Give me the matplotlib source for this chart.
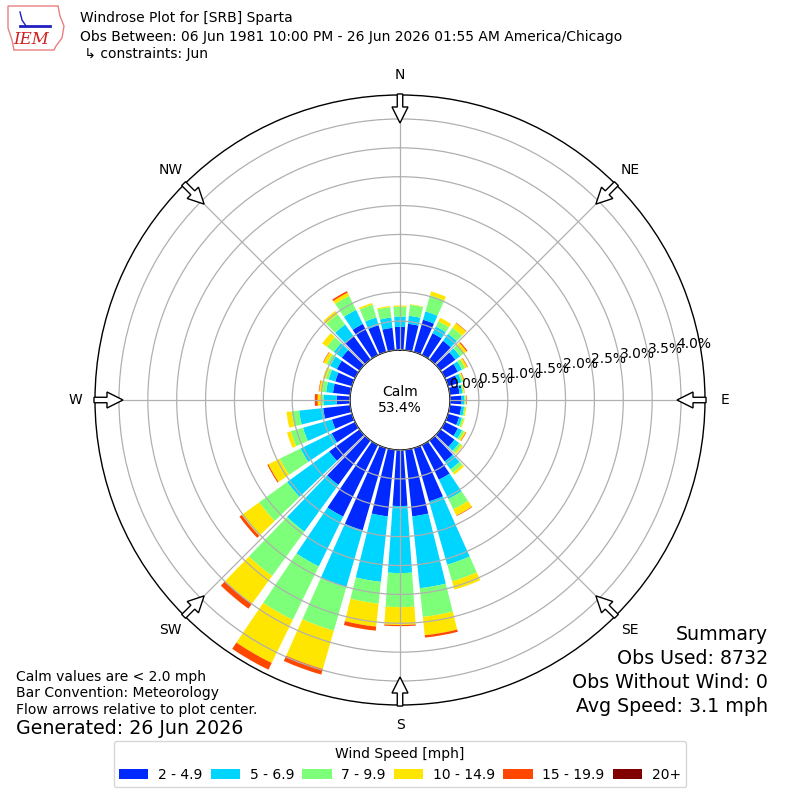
import numpy as np
import matplotlib
matplotlib.use('Agg')
import matplotlib.pyplot as plt
from matplotlib.patches import FancyArrow, Polygon

# direction bins (deg, meteorological), 10 deg wide
directions = np.arange(0, 360, 10)
bin_labels = ['2 - 4.9', '5 - 6.9', '7 - 9.9', '10 - 14.9', '15 - 19.9', '20+']

# percent of obs per direction, one list per speed bin
spd_2_5 = [0.40, 0.46, 0.58, 0.42, 0.40, 0.32, 0.25, 0.18, 0.17, 0.20, 0.20, 0.20,
           0.25, 0.30, 0.45, 0.67, 0.96, 1.16, 0.97, 1.16, 1.48, 1.38, 0.95, 0.65,
           0.45, 0.36, 0.47, 0.23, 0.30, 0.30, 0.35, 0.38, 0.50, 0.60, 0.48, 0.39]
spd_5_7 = [0.18, 0.14, 0.15, 0.13, 0.15, 0.10, 0.08, 0.06, 0.05, 0.05, 0.05, 0.05,
           0.08, 0.10, 0.17, 0.37, 1.14, 1.25, 1.16, 1.14, 1.03, 0.96, 1.00, 0.90,
           0.60, 0.52, 0.42, 0.23, 0.12, 0.12, 0.13, 0.17, 0.25, 0.27, 0.14, 0.18]
spd_7_10 = [0.17, 0.19, 0.29, 0.10, 0.13, 0.08, 0.06, 0.03, 0.02, 0.02, 0.02, 0.03,
            0.04, 0.05, 0.07, 0.20, 0.30, 0.50, 0.59, 0.38, 0.78, 1.03, 0.95, 0.60,
            0.40, 0.22, 0.13, 0.03, 0.07, 0.05, 0.07, 0.15, 0.22, 0.27, 0.23, 0.18]
spd_10_15 = [0.02, 0.01, 0.07, 0.07, 0.10, 0.06, 0.04, 0.02, 0.015, 0.01, 0.02, 0.02,
             0.03, 0.03, 0.04, 0.12, 0.15, 0.32, 0.31, 0.40, 0.69, 0.83, 0.60, 0.37,
             0.22, 0.07, 0.09, 0.07, 0.05, 0.05, 0.06, 0.10, 0.07, 0.06, 0.03, 0.02]
spd_15_20 = [0.0, 0.0, 0.0, 0.0, 0.01, 0.02, 0.01, 0.01, 0.005, 0.01, 0.0, 0.0,
             0.01, 0.0, 0.0, 0.01, 0.0, 0.04, 0.02, 0.07, 0.10, 0.13, 0.10, 0.05,
             0.02, 0.0, 0.0, 0.05, 0.01, 0.0, 0.01, 0.0, 0.0, 0.03, 0.0, 0.0]
spd_20p = [0.0] * 36

calm_pct = 53.4
series = [spd_2_5, spd_5_7, spd_7_10, spd_10_15, spd_15_20, spd_20p]
colors = plt.cm.jet(np.arange(1, 7) / 6.0)

fig = plt.figure(figsize=(8, 8), dpi=100)
R = 305 / 800.
ax = fig.add_axes([0.5 - R, 0.5 - R, 2 * R, 2 * R], projection='polar')
ax.set_theta_zero_location('N')
ax.set_theta_direction(-1)

theta = np.deg2rad(directions)
base = np.zeros(len(directions))
handles = []
for vals, c, lab in zip(series, colors, bin_labels):
    b = ax.bar(theta, vals, width=np.deg2rad(8), bottom=base, color=c,
               linewidth=0, label=lab)
    handles.append(b)
    base = base + np.array(vals)

ax.set_rorigin(-0.866)
ax.set_rlim(0, 4.415)
rticks = np.arange(0, 4.01, 0.5)
ax.set_rgrids(rticks, labels=['%.1f%%' % v for v in rticks], angle=80, fontsize=10)
ax.set_thetagrids(np.arange(0, 360, 45), labels=[''] * 8)
ax.grid(True, color='#b0b0b0', lw=0.9)
ax.set_axisbelow(False)
for sp in ax.spines.values():
    sp.set_color('black')
    sp.set_linewidth(1.0)
ax.text(0.5, 0.5, 'Calm\n%.1f%%' % calm_pct, transform=ax.transAxes,
        ha='center', va='center', fontsize=10)

# overlay in pixel coords for arrows and labels
ov = fig.add_axes([0, 0, 1, 1])
ov.set_xlim(0, 800)
ov.set_ylim(800, 0)
ov.axis('off')

compass = ['N', 'NE', 'E', 'SE', 'S', 'SW', 'W', 'NW']
for i, name in enumerate(compass):
    a = np.deg2rad(i * 45)
    ux, uy = np.sin(a), -np.cos(a)
    x0, y0 = 400 + 306 * ux, 400 + 306 * uy
    ov.add_patch(FancyArrow(x0, y0, -29 * ux, -29 * uy, width=5.5, head_width=16,
                            head_length=16, length_includes_head=True,
                            fc='white', ec='black', lw=1, zorder=5))
    ov.text(400 + 325 * ux, 400 + 325 * uy, name, ha='center', va='center', fontsize=10)

# logo-ish
ov.add_patch(Polygon([(8, 6), (58, 6), (60, 16), (64, 26), (62, 38), (56, 46),
                      (54, 50), (14, 50), (12, 40), (8, 28)], closed=True,
                     fill=False, ec='#e88080', lw=1))
ov.plot([20, 50], [26, 26], color='#2020c0', lw=2)
ov.plot([20, 22, 26], [12, 20, 26], color='#2020c0', lw=1)
ov.text(31, 39, 'IEM', color='#d02020', fontsize=12, style='italic',
        family='DejaVu Serif', ha='center', va='center')

ov.text(80, 18, 'Windrose Plot for [SRB] Sparta', fontsize=10, va='center')
ov.text(80, 37, 'Obs Between: 06 Jun 1981 10:00 PM - 26 Jun 2026 01:55 AM America/Chicago',
        fontsize=10, va='center')
ov.text(80, 54, ' \u21b3 constraints: Jun', fontsize=10, va='center')

ov.text(16, 677, 'Calm values are < 2.0 mph', fontsize=10, va='center')
ov.text(16, 693, 'Bar Convention: Meteorology', fontsize=10, va='center')
ov.text(16, 710, 'Flow arrows relative to plot center.', fontsize=10, va='center')
ov.text(16, 729, 'Generated: 26 Jun 2026', fontsize=13.7, va='center')

ov.text(768, 635, 'Summary', fontsize=13.7, ha='right', va='center')
ov.text(768, 659, 'Obs Used: 8732', fontsize=13.7, ha='right', va='center')
ov.text(768, 683, 'Obs Without Wind: 0', fontsize=13.7, ha='right', va='center')
ov.text(768, 706, 'Avg Speed: 3.1 mph', fontsize=13.7, ha='right', va='center')

fig.legend(handles, bin_labels, loc='lower center', bbox_to_anchor=(0.5, 0.007),
           ncol=6, title='Wind Speed [mph]', fontsize=10, title_fontsize=10,
           columnspacing=0.6, handlelength=2.1, handletextpad=0.7)

fig.savefig('out.png', dpi=100)
